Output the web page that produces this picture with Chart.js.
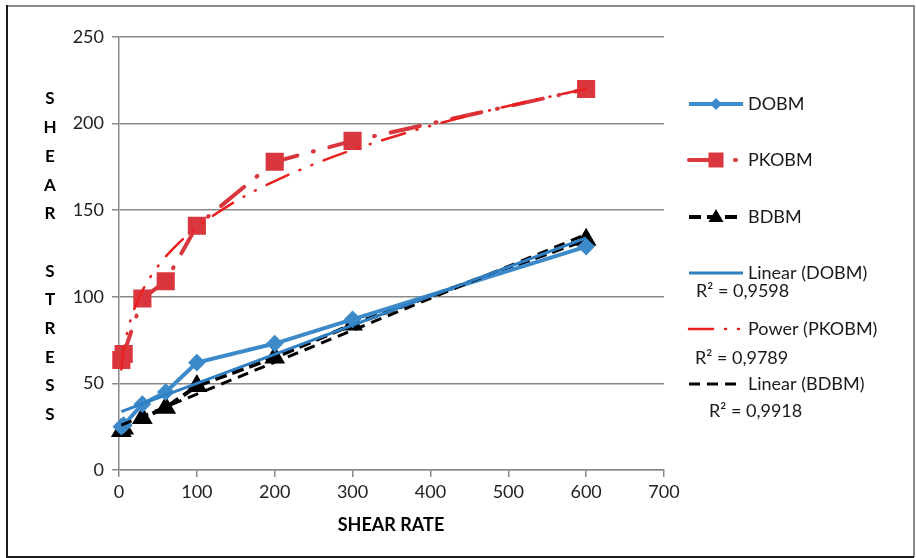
<!DOCTYPE html>
<html>
<head>
<meta charset="utf-8">
<script src="https://cdn.jsdelivr.net/npm/chart.js@4.4.0/dist/chart.umd.min.js"></script>
<style>
  html, body { margin: 0; padding: 0; background: #fff; }
  #wrap { width: 916px; height: 558px; position: relative; }
</style>
</head>
<body>
<div id="wrap"><canvas id="shearChart" width="916" height="558"></canvas></div>
<script>
// measured points
const shearRate = [3, 6, 30, 60, 100, 200, 300, 600];
const dobm = [25, 26, 38, 45, 62, 73, 87, 129];
const pkobm = [63.5, 67, 99, 109, 141, 178, 190, 220];
const bdbm = [22.5, 24, 30, 36, 48.5, 65, 84, 133];

// trendlines
const linDobmX = [3, 600];
const linDobmY = [33.7, 134];
const powPkobmX = [3, 5, 10, 20, 30, 50, 75, 100, 150, 200, 250, 300, 400, 500, 600];
const powPkobmY = [58, 66, 78.4, 93.4, 103.5, 117.7, 130.3, 140, 155.2, 166.8, 176.5, 184.8, 198.7, 210.2, 220];
const linBdbmX = [3, 600];
const linBdbmY = [25.9, 136];

const xTicks = [0, 100, 200, 300, 400, 500, 600, 700];
const yTicks = [0, 50, 100, 150, 200, 250];

const yTitle = ['S', 'H', 'E', 'A', 'R', '', 'S', 'T', 'R', 'E', 'S', 'S'];
const xTitle = 'SHEAR RATE';

const BLUE = '#3C8AC9';
const BLUE_TREND = '#2F7FC2';
const RED = '#D9363E';
const RED_TREND = '#E8201F';
const BLACK = '#000000';
const FONT = 'Lato, "Liberation Sans", sans-serif';

function pairs(xs, ys) {
    return xs.map((x, i) => ({ x: x, y: ys[i] }));
}

const datasets = [
    {
        label: 'DOBM', data: pairs(shearRate, dobm),
        borderColor: BLUE, backgroundColor: BLUE, borderWidth: 4,
        pointStyle: 'rectRot', pointRadius: 6, order: 2
    },
    {
        label: 'PKOBM', data: pairs(shearRate, pkobm),
        borderColor: RED, backgroundColor: RED, borderWidth: 4,
        borderDash: [30, 16, 1, 16], borderCapStyle: 'round',
        pointStyle: 'rect', pointRadius: 10, order: 2
    },
    {
        label: 'BDBM', data: pairs(shearRate, bdbm),
        borderColor: BLACK, backgroundColor: BLACK, borderWidth: 4,
        borderDash: [12, 6],
        pointStyle: 'triangle', pointRadius: 8, order: 2
    },
    {
        label: 'Linear (DOBM)', data: pairs(linDobmX, linDobmY),
        borderColor: BLUE_TREND, borderWidth: 3, pointRadius: 0, order: 1
    },
    {
        label: 'Power (PKOBM)', data: pairs(powPkobmX, powPkobmY),
        borderColor: RED_TREND, borderWidth: 2.5, pointRadius: 0,
        borderDash: [24, 12, 1, 12, 1, 12], borderCapStyle: 'round',
        cubicInterpolationMode: 'monotone', order: 1
    },
    {
        label: 'Linear (BDBM)', data: pairs(linBdbmX, linBdbmY),
        borderColor: BLACK, borderWidth: 3, pointRadius: 0,
        borderDash: [11, 7], order: 1
    }
];

const legendItems = [
    { ds: 0, y: 104, text: 'DOBM' },
    { ds: 1, y: 160, text: 'PKOBM' },
    { ds: 2, y: 217, text: 'BDBM' },
    { ds: 3, y: 273, text: 'Linear (DOBM)', r2: 'R² = 0,9598', r2x: 696, r2y: 291 },
    { ds: 4, y: 329, text: 'Power (PKOBM)', r2: 'R² = 0,9789', r2x: 695, r2y: 358 },
    { ds: 5, y: 384, text: 'Linear (BDBM)', r2: 'R² = 0,9918', r2x: 709, r2y: 411 }
];

function drawMarker(c, style, x, y, color) {
    c.save();
    c.fillStyle = color;
    c.setLineDash([]);
    c.beginPath();
    if (style === 'rectRot') {
        c.moveTo(x, y - 6); c.lineTo(x + 6, y); c.lineTo(x, y + 6); c.lineTo(x - 6, y);
    } else if (style === 'rect') {
        c.rect(x - 7.5, y - 7.5, 15, 15);
    } else if (style === 'triangle') {
        c.moveTo(x, y - 8); c.lineTo(x + 7.5, y + 5); c.lineTo(x - 7.5, y + 5);
    }
    c.closePath();
    c.fill();
    c.restore();
}

const extras = {
    id: 'extras',
    beforeDraw(chart) {
        const c = chart.ctx;
        c.save();
        c.fillStyle = '#fff';
        c.fillRect(0, 0, chart.width, chart.height);
        c.restore();
    },
    afterDraw(chart) {
        const c = chart.ctx;
        c.save();

        // outer frame
        c.lineWidth = 2;
        c.strokeStyle = '#8a8a8a';
        c.beginPath(); c.moveTo(7, 6); c.lineTo(914, 6); c.lineTo(914, 557); c.stroke();
        c.strokeStyle = '#1a1a1a';
        c.beginPath(); c.moveTo(7, 5); c.lineTo(7, 557); c.lineTo(914, 557); c.stroke();

        // axis titles
        c.fillStyle = '#000';
        c.font = 'bold 17px ' + FONT;
        c.textAlign = 'center';
        c.textBaseline = 'middle';
        yTitle.forEach((ch, i) => c.fillText(ch, 50, 99 + i * 28.7));
        c.font = 'bold 18px ' + FONT;
        c.fillText(xTitle, 391, 525);

        // legend
        c.font = '18px ' + FONT;
        c.textAlign = 'left';
        legendItems.forEach(item => {
            const ds = chart.data.datasets[item.ds];
            c.save();
            c.strokeStyle = ds.borderColor;
            c.lineWidth = ds.borderWidth;
            c.lineCap = ds.borderCapStyle || 'butt';
            c.setLineDash(ds.borderDash || []);
            c.beginPath(); c.moveTo(689, item.y); c.lineTo(743, item.y); c.stroke();
            c.restore();
            if (ds.pointRadius > 0) drawMarker(c, ds.pointStyle, 716, item.y, ds.backgroundColor);
            c.fillStyle = '#1a1a1a';
            c.fillText(item.text, 748, item.y);
            if (item.r2) c.fillText(item.r2, item.r2x, item.r2y);
        });
        c.restore();
    }
};

new Chart(document.getElementById('shearChart'), {
    type: 'line',
    data: { datasets: datasets },
    plugins: [extras],
    options: {
        responsive: false,
        animation: false,
        layout: { padding: { top: 37, right: 252, left: 0, bottom: 0 } },
        plugins: { legend: { display: false }, tooltip: { enabled: false } },
        elements: { line: { tension: 0, fill: false }, point: { borderWidth: 0 } },
        datasets: { line: { clip: false } },
        scales: {
            x: {
                type: 'linear', min: 0, max: 700,
                afterFit: s => { s.height = 88; },
                afterBuildTicks: s => { s.ticks = xTicks.map(v => ({ value: v })); },
                grid: { drawOnChartArea: false, drawTicks: true, tickLength: 7, color: '#8a8a8a', lineWidth: 1.5 },
                border: { display: true, color: '#8a8a8a', width: 1.5 },
                ticks: { autoSkip: false, maxRotation: 0, padding: 4, color: '#222', font: { family: FONT, size: 18 } }
            },
            y: {
                type: 'linear', min: 0, max: 250,
                afterFit: s => { s.width = 119; },
                afterBuildTicks: s => { s.ticks = yTicks.map(v => ({ value: v })); },
                grid: { drawTicks: true, tickLength: 7, color: '#8a8a8a', lineWidth: 1.5 },
                border: { display: true, color: '#8a8a8a', width: 1.5 },
                ticks: { padding: 8, color: '#222', font: { family: FONT, size: 18 } }
            }
        }
    }
});
</script>
</body>
</html>
